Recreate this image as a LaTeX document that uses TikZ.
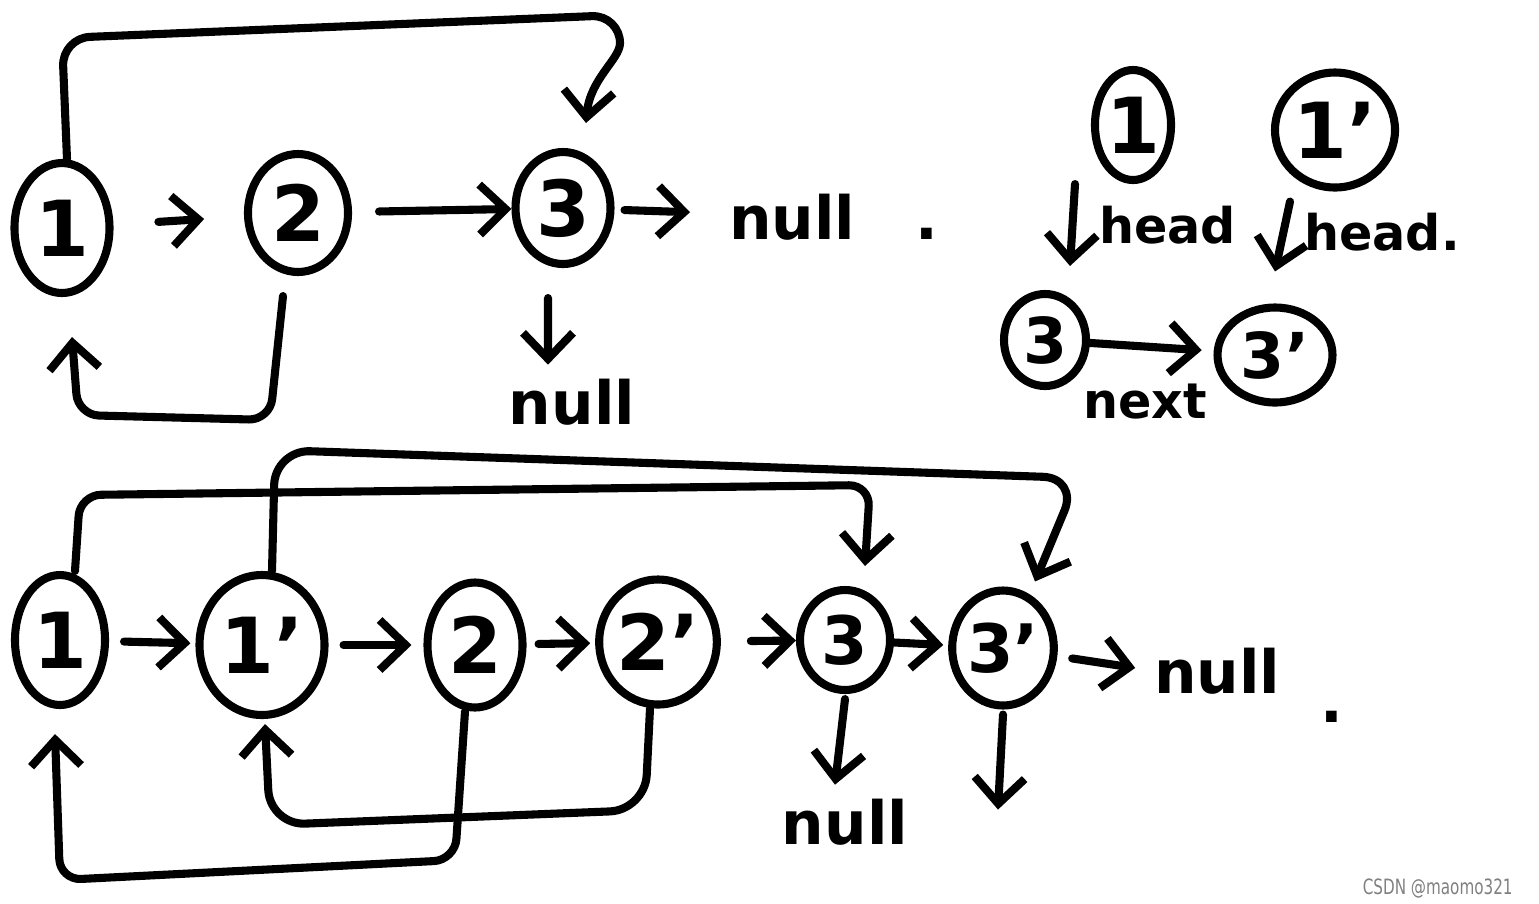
\documentclass[tikz,border=0pt]{standalone}
\usepackage{fontspec}
\setmainfont{DejaVu Sans}
\usetikzlibrary{shapes.geometric,arrows.meta}

\tikzset{
  ink/.style={line width=2.3pt, line cap=round, line join=round},
  arr/.style={ink, -{Straight Barb[length=2.6mm,width=5mm]}},
  nd/.style={ink, draw, ellipse, inner sep=0pt, font=\bfseries\fontsize{22}{22}\selectfont},
  hand/.style={font=\bfseries\fontsize{17}{17}\selectfont, inner sep=1pt},
  small/.style={font=\bfseries\fontsize{14}{14}\selectfont, inner sep=1pt}
}

\begin{document}
\begin{tikzpicture}
\useasboundingbox (0,0) rectangle (15.39,-9.03);

% Top list
\node[nd, minimum width=0.95cm, minimum height=1.3cm] (n1) at (0.62,-2.28) {1};
\node[nd, minimum width=1.0cm, minimum height=1.18cm] (n2) at (2.98,-2.13) {2};
\node[nd, minimum width=0.95cm, minimum height=1.12cm] (n3) at (5.63,-2.08) {3};
\node[hand, anchor=west] (null1) at (7.25,-2.17) {null\hspace{0.6cm}.};
\node[hand] (null2) at (5.72,-4.02) {null};

\draw[arr, shorten <=4.5mm, shorten >=4mm] (n1) -- (n2);
\draw[arr, shorten <=2.7mm] (n2) -- (n3);
\draw[arr, shorten <=1mm, shorten >=3.5mm] (n3) -- (null1);
\draw[arr] ([xshift=-1.5mm,yshift=-3mm]n3.south) -- ([xshift=-2.4mm,yshift=1mm]null2.north);

% Top jumps
\draw[arr, rounded corners=8pt] ([xshift=0.5mm]n1.north) -- (0.62,-0.38) -- (6.2,-0.15)
  to[out=-90,in=85] ([xshift=2.3mm,yshift=2.5mm]n3.north);
\draw[arr, rounded corners=6pt] ([xshift=-1.5mm,yshift=-2mm]n2.south) -- (2.7,-4.2) -- (0.78,-4.15)
  -- ([xshift=1mm,yshift=-4mm]n1.south);

% Head pointers
\node[nd, minimum width=0.72cm, minimum height=1.1cm] (h1) at (11.33,-1.25) {1};
\node[nd, minimum width=1.2cm, minimum height=1.15cm] (h1p) at (13.35,-1.3) {1'};
\node[nd, minimum width=0.82cm, minimum height=0.92cm, font=\bfseries\fontsize{18}{18}\selectfont] (h3) at (10.45,-3.4) {3};
\node[nd, minimum width=1.15cm, minimum height=0.95cm, font=\bfseries\fontsize{18}{18}\selectfont] (h3p) at (12.75,-3.55) {3'};
\node[small, anchor=west] (hd1) at (10.95,-2.25) {head};
\node[small, anchor=west] (hd2) at (13.0,-2.32) {head.};
\node[small] (nx) at (11.45,-4.02) {next};

\draw[arr] ([xshift=-5.8mm]h1.south) -- ([xshift=2.5mm,yshift=2.4mm]h3.north);
\draw[arr] ([xshift=-4.5mm,yshift=-1mm]h1p.south) -- ([yshift=3.2mm]h3p.north);
\draw[arr, shorten >=1.2mm] (h3) -- (h3p);

% Bottom list
\node[nd, minimum width=0.9cm, minimum height=1.3cm] (b1) at (0.60,-6.40) {1};
\node[nd, minimum width=1.25cm, minimum height=1.4cm] (b1p) at (2.62,-6.45) {1'};
\node[nd, minimum width=0.95cm, minimum height=1.25cm] (b2) at (4.75,-6.45) {2};
\node[nd, minimum width=1.15cm, minimum height=1.25cm] (b2p) at (6.58,-6.42) {2'};
\node[nd, minimum width=0.9cm, minimum height=1.0cm, font=\bfseries\fontsize{19}{19}\selectfont] (b3) at (8.45,-6.40) {3};
\node[nd, minimum width=0.95cm, minimum height=1.15cm, font=\bfseries\fontsize{19}{19}\selectfont] (b3p) at (10.03,-6.48) {3'};
\node[hand, anchor=west] (null3) at (11.5,-6.85) {null\hspace{0.4cm}\raisebox{-0.9ex}{.}};
\node[hand] (null4) at (8.45,-8.22) {null};

\foreach \a/\b/\s/\t in {b1/b1p/1.5mm/0.5mm, b1p/b2/1.5mm/1.2mm, b2/b2p/1.2mm/0.5mm,
  b2p/b3/3mm/0mm, b3/b3p/0mm/0.5mm, b3p/null3/1.5mm/1.5mm}
  \draw[arr, shorten <=\s, shorten >=\t] (\a) -- (\b);

\draw[arr] ([yshift=-0.5mm]b3.south) -- ([xshift=-1mm,yshift=1mm]null4.north);
\draw[arr] ([yshift=-0.5mm]b3p.south) -- ++(-0.05,-0.95);

% Bottom jumps
\draw[arr, rounded corners=6pt] ([xshift=1.5mm]b1.north) -- (0.8,-4.95) -- (8.7,-4.85)
  -- ([xshift=2mm,yshift=2mm]b3.north);
\draw[arr, rounded corners=10pt] ([xshift=1mm]b1p.north) -- (2.75,-4.5) -- (10.78,-4.78)
  -- ([xshift=3.2mm,yshift=0.5mm]b3p.north);
\draw[arr, rounded corners=6pt] ([xshift=-1mm]b2.south) -- (4.55,-8.6) -- (0.6,-8.8)
  -- ([xshift=-0.5mm,yshift=-2.5mm]b1.south);
\draw[arr, rounded corners=10pt] ([xshift=-0.8mm]b2p.south) -- (6.45,-8.1) -- (2.7,-8.25)
  -- ([xshift=0.3mm,yshift=-0.5mm]b1p.south);

% Watermark
\node[text=gray, font=\fontsize{6}{7}\selectfont, anchor=east] (wm) at (15.25,-8.88) {\scalebox{0.72}[1]{CSDN @maomo321}};
\end{tikzpicture}
\end{document}
